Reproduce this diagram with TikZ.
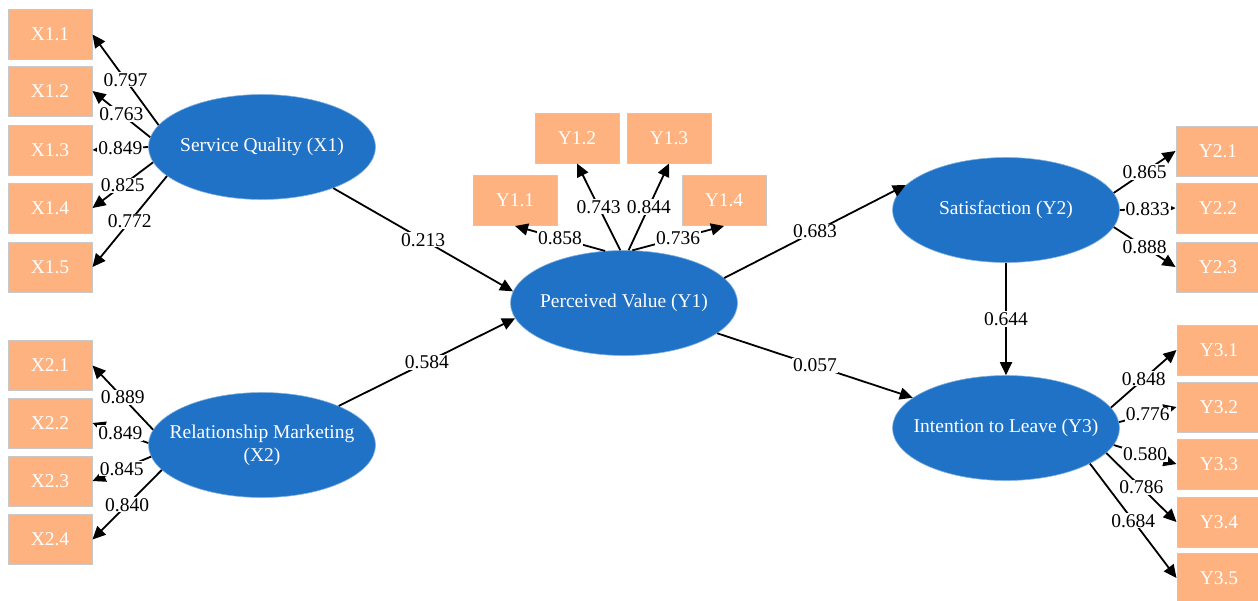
\documentclass[tikz,border=0pt]{standalone}
\usepackage{fontspec}
\setmainfont{Liberation Serif}
\newfontfamily\chuTimes{Liberation Serif}
\usetikzlibrary{shapes.geometric,arrows.meta}
\definecolor{latent}{RGB}{31,114,197}
\definecolor{indic}{RGB}{253,178,128}
\definecolor{vien}{RGB}{200,200,200}
\begin{document}
\begin{tikzpicture}[x=1pt,y=1pt,line join=round,
	font=\chuTimes\fontsize{19.5}{23}\selectfont,
	>={Triangle[length=13pt,width=12pt]},
	bien/.style={ellipse,fill=latent,draw=latent!55!white,line width=.6pt,text=white,
		minimum width=227pt,minimum height=105pt,inner xsep=-16pt,inner ysep=0pt,align=center},
	chiso/.style={rectangle,fill=indic,draw=vien,line width=1pt,text=white,
		minimum width=84pt,minimum height=50pt,inner sep=0pt},
	duong/.style={->,line width=1.8pt},
	nhan/.style={fill=white,inner sep=1pt,text=black}]
	\useasboundingbox (0,0) rectangle (1258,-600);
	% biến tiềm ẩn
	\path
	(262,-147) node[bien] (sq) {Service Quality (X1)}
	(262,-445) node[bien] (rm) {Relationship Marketing\\(X2)}
	(624,-303) node[bien] (pv) {Perceived Value (Y1)}
	(1006,-210) node[bien] (sa) {Satisfaction (Y2)}
	(1006,-428) node[bien] (il) {Intention to Leave (Y3)};
	% biến quan sát
	\path
	(50,-34.5) node[chiso] (x11) {X1.1}
	(50,-91) node[chiso] (x12) {X1.2}
	(50,-150) node[chiso] (x13) {X1.3}
	(50,-208) node[chiso] (x14) {X1.4}
	(50,-267) node[chiso] (x15) {X1.5}
	(50,-365.5) node[chiso] (x21) {X2.1}
	(50,-423) node[chiso] (x22) {X2.2}
	(50,-481) node[chiso] (x23) {X2.3}
	(50,-539.5) node[chiso] (x24) {X2.4}
	(515,-200.5) node[chiso] (y11) {Y1.1}
	(577,-138) node[chiso] (y12) {Y1.2}
	(669,-138) node[chiso] (y13) {Y1.3}
	(724,-200.5) node[chiso] (y14) {Y1.4}
	(1218,-151) node[chiso] (y21) {Y2.1}
	(1218,-208) node[chiso] (y22) {Y2.2}
	(1218,-267) node[chiso] (y23) {Y2.3}
	(1219,-350) node[chiso] (y31) {Y3.1}
	(1219,-407) node[chiso] (y32) {Y3.2}
	(1219,-464) node[chiso] (y33) {Y3.3}
	(1219,-522) node[chiso] (y34) {Y3.4}
	(1219,-578) node[chiso] (y35) {Y3.5};
	% hệ số tải
	\draw[duong] (sq.168) -- node[nhan]{0.797} (x11.east);
	\draw[duong] (sq.175) -- node[nhan]{0.763} (x12.east);
	\draw[duong] (sq.180) -- node[nhan]{0.849} (x13.east);
	\draw[duong] (sq.188) -- node[nhan]{0.825} (x14.east);
	\draw[duong] (sq.197.5) -- node[nhan]{0.772} (x15.east);
	\draw[duong] (rm.172) -- node[nhan]{0.889} (x21.east);
	\draw[duong] (rm.179) -- node[nhan]{0.849} (x22.east);
	\draw[duong] (rm.186) -- node[nhan]{0.845} (x23.east);
	\draw[duong] (rm.194) -- node[nhan]{0.840} (x24.east);
	\draw[duong] (pv.110) -- node[nhan]{0.858} (y11.south);
	\draw[duong] (pv.94) -- node[nhan]{0.743} (y12.south);
	\draw[duong] (pv.85) -- node[nhan]{0.844} (y13.south);
	\draw[duong] (pv.81) -- node[nhan]{0.736} (y14.south);
	\draw[duong] (sa.9.6) -- node[nhan]{0.865} (y21.west);
	\draw[duong] (sa.0) -- node[nhan]{0.833} (y22.west);
	\draw[duong] (sa.-9) -- node[nhan]{0.888} (y23.west);
	\draw[duong] (il.11) -- node[nhan]{0.848} (y31.west);
	\draw[duong] (il.3) -- node[nhan]{0.776} (y32.west);
	\draw[duong] (il.-9.5) -- node[nhan]{0.580} (y33.west);
	\draw[duong] (il.-14.5) -- node[nhan]{0.786} (y34.west);
	\draw[duong] (il.-23) -- node[nhan]{0.684} (y35.west);
	% hệ số đường dẫn
	\draw[duong] (sq.-30) -- node[nhan]{0.213} (pv.174);
	\draw[duong] (rm.27) -- node[nhan]{0.584} (pv.188);
	\draw[duong] (pv.14) -- node[nhan]{0.683} (sa.166);
	\draw[duong] (pv.-18) -- node[nhan]{0.057} (il.162);
	\draw[duong] (sa.south) -- node[nhan]{0.644} (il.north);
\end{tikzpicture}
\end{document}
